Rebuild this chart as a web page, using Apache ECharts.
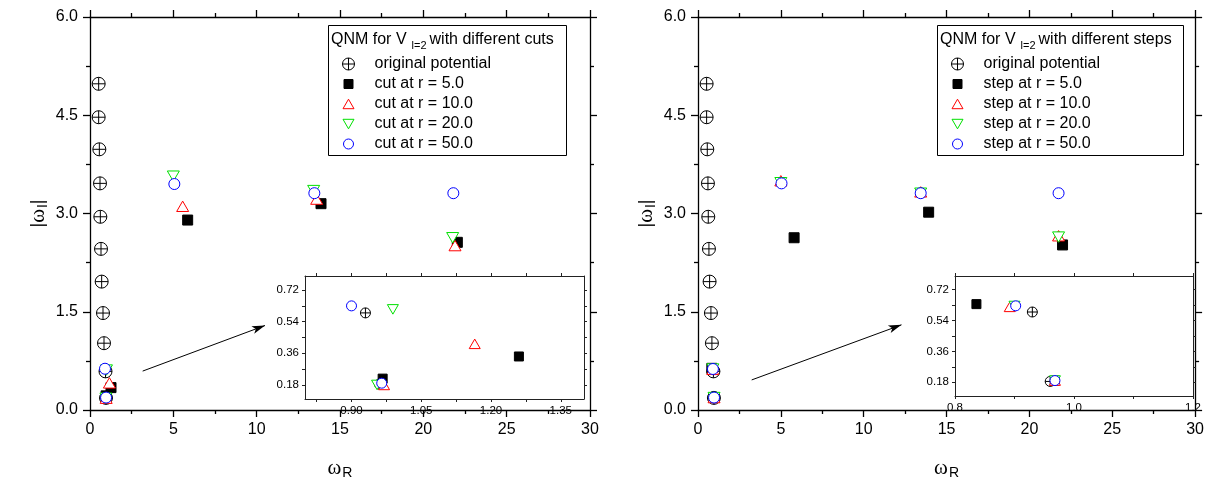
<!DOCTYPE html>
<html>
<head>
<meta charset="utf-8">
<script src="https://cdn.jsdelivr.net/npm/echarts@6/dist/echarts.min.js"></script>
<style>
html,body{margin:0;padding:0;background:#fff;}
#chart{width:1207px;height:485px;}
</style>
</head>
<body>
<div id="chart"></div>
<script>
// data: [omega_R, |omega_I|]
var original = [[0.52,4.98],[0.52,4.47],[0.56,3.98],[0.60,3.46],[0.62,2.95],[0.66,2.46],[0.70,1.96],[0.78,1.48],[0.84,1.02],[0.93,0.59],[0.96,0.185]];

var cut5  = [[0.967,0.216],[1.26,0.342],[5.86,2.90],[13.86,3.15],[22.04,2.56]];
var cut10 = [[0.97,0.18],[1.165,0.414],[5.56,3.11],[13.6,3.22],[21.9,2.51]];
var cut20 = [[0.955,0.18],[0.989,0.61],[5.0,3.57],[13.42,3.35],[21.76,2.63]];
var cut50 = [[0.965,0.19],[0.90,0.63],[5.06,3.45],[13.46,3.31],[21.8,3.31]];

var step5  = [[0.968,0.19],[0.836,0.636],[5.8,2.63],[13.92,3.02],[22.0,2.52]];
var step10 = [[0.968,0.19],[0.892,0.62],[5.0,3.50],[13.44,3.33],[21.76,2.66]];
var step20 = [[0.968,0.19],[0.90,0.625],[5.0,3.47],[13.44,3.31],[21.76,2.64]];
var step50 = [[0.968,0.19],[0.902,0.626],[5.04,3.46],[13.44,3.31],[21.76,3.31]];

// arrows pointing at the insets
var arrowLeft  = [[3.16,0.594],[10.5,1.29]];
var arrowRight = [[3.24,0.459],[12.28,1.30]];

// tick labels of the insets
var insetLeftXLabels  = [0.90,1.05,1.20,1.35];
var insetLeftXTicks   = [0.825,0.90,0.975,1.05,1.125,1.20,1.275,1.35];
var insetRightXLabels = [0.8,1.0,1.2];
var insetRightXTicks  = [0.8,0.9,1.0,1.1,1.2];
var insetYLabels = [0.18,0.36,0.54,0.72];
var insetYTicks  = [0.18,0.27,0.36,0.45,0.54,0.63,0.72];

var cutNames  = ["original potential","cut at r = 5.0","cut at r = 10.0","cut at r = 20.0","cut at r = 50.0"];
var stepNames = ["original potential","step at r = 5.0","step at r = 10.0","step at r = 20.0","step at r = 50.0"];

var SANS = "Liberation Sans";

// symbols
var oplus = 'path://M0,10A10,10,0,1,1,20,10A10,10,0,1,1,0,10ZM10,0L10,20M0,10L20,10';
var triUp = 'path://M5,0L10,8.66L0,8.66Z';
var triDown = 'path://M0,0L10,0L5,8.66Z';

// legend icons: box is 28x14, the mark sits in the left 14x14
var legOplus = 'path://M0,0M28,14M1,7A6,6,0,1,1,13,7A6,6,0,1,1,1,7ZM7,1L7,13M1,7L13,7';
var legSquare = 'path://M0,0M28,14M2.5,2.5L11.5,2.5L11.5,11.5L2.5,11.5Z';
var legUp = 'path://M0,0M28,14M7,2.2L12.5,11.7L1.5,11.7Z';
var legDown = 'path://M0,0M28,14M1.5,2.3L12.5,2.3L7,11.8Z';
var legCircle = 'path://M0,0M28,14M2,7A5,5,0,1,1,12,7A5,5,0,1,1,2,7Z';

var styles = [
  {main:[oplus,13], inset:[oplus,10], icon:legOplus, fill:'#fff', stroke:'#000'},
  {main:['rect',10], inset:['rect',9], icon:legSquare, fill:'#000', stroke:'#000'},
  {main:[triUp,12], inset:[triUp,11], icon:legUp, fill:'#fff', stroke:'#ff0000'},
  {main:[triDown,12], inset:[triDown,11], icon:legDown, fill:'#fff', stroke:'#00e000'},
  {main:['circle',11], inset:['circle',10], icon:legCircle, fill:'#fff', stroke:'#0000ff'}
];

function mkSeries(name, data, st, small, xi, yi){
  var s = small ? st.inset : st.main;
  return {
    name:name, type:'scatter', data:data,
    xAxisIndex:xi, yAxisIndex:yi,
    symbol:s[0], symbolSize:s[1], symbolKeepAspect:true,
    itemStyle:{color:st.fill, borderColor:st.stroke, borderWidth:1, opacity:1},
    emphasis:{disabled:true}, silent:true
  };
}

var nameRich = {
  b:{fontFamily:SANS, fontSize:18, color:'#000'},
  w:{fontFamily:'Liberation Serif', fontSize:21, color:'#000'},
  s:{fontFamily:SANS, fontSize:14, color:'#000', padding:[9,0,0,1]}
};

function mainX(g, pos){
  return {
    type:'value', gridIndex:g, position:pos, min:0, max:30, interval:5,
    axisLine:{show:true, onZero:false, lineStyle:{color:'#000', width:1.3}},
    axisTick:{show:true, inside:false, length:7, lineStyle:{color:'#000', width:1.3}},
    minorTick:{show:true, splitNumber:2, length:4, lineStyle:{color:'#000', width:1.3}},
    axisLabel:{show:pos==='bottom', margin:12, color:'#000', fontSize:16, fontFamily:SANS},
    splitLine:{show:false}, minorSplitLine:{show:false},
    name: pos==='bottom' ? '{w|ω}{s|R}' : '',
    nameLocation:'middle', nameGap:47,
    nameTextStyle:{rich:nameRich}
  };
}
function mainY(g, pos){
  return {
    type:'value', gridIndex:g, position:pos, min:0, max:6, interval:1.5,
    axisLine:{show:true, onZero:false, lineStyle:{color:'#000', width:1.3}},
    axisTick:{show:true, inside:false, length:7, lineStyle:{color:'#000', width:1.3}},
    minorTick:{show:true, splitNumber:2, length:4, lineStyle:{color:'#000', width:1.3}},
    axisLabel:{show:pos==='left', margin:12, color:'#000', fontSize:16, fontFamily:SANS,
      formatter:function(v){return v.toFixed(1);}},
    splitLine:{show:false}, minorSplitLine:{show:false},
    name: pos==='left' ? '{b||}{w|ω}{s|I}{b||}' : '',
    nameLocation:'middle', nameGap:40, nameRotate:90,
    nameTextStyle:{rich:nameRich}
  };
}
function insetAxis(g, pos, min, max, labels, ticks, digits){
  return {
    type:'value', gridIndex:g, position:pos, min:min, max:max,
    axisLine:{show:true, onZero:false, lineStyle:{color:'#222', width:1}},
    axisTick:{show:true, inside:false, length:3, customValues:ticks, lineStyle:{color:'#222', width:1}},
    axisLabel:{show:(pos==='bottom'||pos==='left'), margin:6, customValues:labels,
      color:'#000', fontSize:11.5, fontFamily:SANS,
      formatter:function(v){return v.toFixed(digits);}},
    splitLine:{show:false}
  };
}

var grids = [
  {left:90, top:17, width:500, height:401},
  {left:698, top:17, width:500, height:401},
  {left:305, top:276, width:279, height:123},
  {left:955, top:276, width:238, height:120}
];

var xAxes = [
  mainX(0,'bottom'), mainX(0,'top'),
  mainX(1,'bottom'), mainX(1,'top'),
  insetAxis(2,'bottom',0.8,1.4,insetLeftXLabels,insetLeftXTicks,2),
  insetAxis(2,'top',0.8,1.4,insetLeftXLabels,insetLeftXTicks,2),
  insetAxis(3,'bottom',0.8,1.2,insetRightXLabels,insetRightXTicks,1),
  insetAxis(3,'top',0.8,1.2,insetRightXLabels,insetRightXTicks,1)
];
var yAxes = [
  mainY(0,'left'), mainY(0,'right'),
  mainY(1,'left'), mainY(1,'right'),
  insetAxis(2,'left',0.1,0.8,insetYLabels,insetYTicks,2),
  insetAxis(2,'right',0.1,0.8,insetYLabels,insetYTicks,2),
  insetAxis(3,'left',0.1,0.8,insetYLabels,insetYTicks,2),
  insetAxis(3,'right',0.1,0.8,insetYLabels,insetYTicks,2)
];

var cutSets = [original, cut5, cut10, cut20, cut50];
var stepSets = [original, step5, step10, step20, step50];

var series = [];
// main panels
cutSets.forEach(function(d,i){ series.push(mkSeries(cutNames[i], d, styles[i], false, 0, 0)); });
stepSets.forEach(function(d,i){ series.push(mkSeries(stepNames[i], d, styles[i], false, 2, 2)); });
// insets
cutSets.forEach(function(d,i){ series.push(mkSeries(cutNames[i], d, styles[i], true, 4, 4)); });
stepSets.forEach(function(d,i){ series.push(mkSeries(stepNames[i], d, styles[i], true, 6, 6)); });

function arrowLine(xi, yi, pts){
  return {
    type:'scatter', xAxisIndex:xi, yAxisIndex:yi, data:[], silent:true,
    markLine:{
      silent:true, symbol:['none','arrow'], symbolSize:[6,13],
      label:{show:false}, emphasis:{disabled:true},
      lineStyle:{color:'#000', width:1, type:'solid'},
      data:[[{coord:pts[0]},{coord:pts[1]}]]
    }
  };
}
series.push(arrowLine(0,0,arrowLeft));
series.push(arrowLine(2,2,arrowRight));

function legendFor(names, left){
  return {
    orient:'vertical', left:left, top:56, padding:0, itemGap:4,
    itemWidth:28, itemHeight:14, selectedMode:false,
    textStyle:{fontSize:16, fontFamily:SANS, color:'#000'},
    data:names.map(function(n,i){
      return {name:n, icon:styles[i].icon,
        itemStyle:{color:styles[i].fill, borderColor:styles[i].stroke, borderWidth:1}};
    })
  };
}

var titleRich = {
  s:{fontFamily:SANS, fontSize:11, padding:[11,3,0,5], fill:'#000'}
};

var option = {
  animation:false,
  backgroundColor:'#fff',
  grid:grids,
  xAxis:xAxes,
  yAxis:yAxes,
  legend:[legendFor(cutNames,341), legendFor(stepNames,950)],
  series:series,
  graphic:[
    {type:'rect', silent:true, shape:{x:328.5, y:25.5, width:238, height:130},
      style:{fill:'none', stroke:'#000', lineWidth:1}},
    {type:'rect', silent:true, shape:{x:937.5, y:25.5, width:246, height:130},
      style:{fill:'none', stroke:'#000', lineWidth:1}},
    {type:'text', silent:true, x:331, y:29,
      style:{text:'QNM for V{s|l=2}with different cuts', font:'16px "Liberation Sans"', fill:'#000', rich:titleRich}},
    {type:'text', silent:true, x:940, y:29,
      style:{text:'QNM for V{s|l=2}with different steps', font:'16px "Liberation Sans"', fill:'#000', rich:titleRich}}
  ]
};

var myChart = echarts.init(document.getElementById('chart'));
myChart.setOption(option);
window.addEventListener('resize', function(){ myChart.resize(); });
</script>
</body>
</html>
